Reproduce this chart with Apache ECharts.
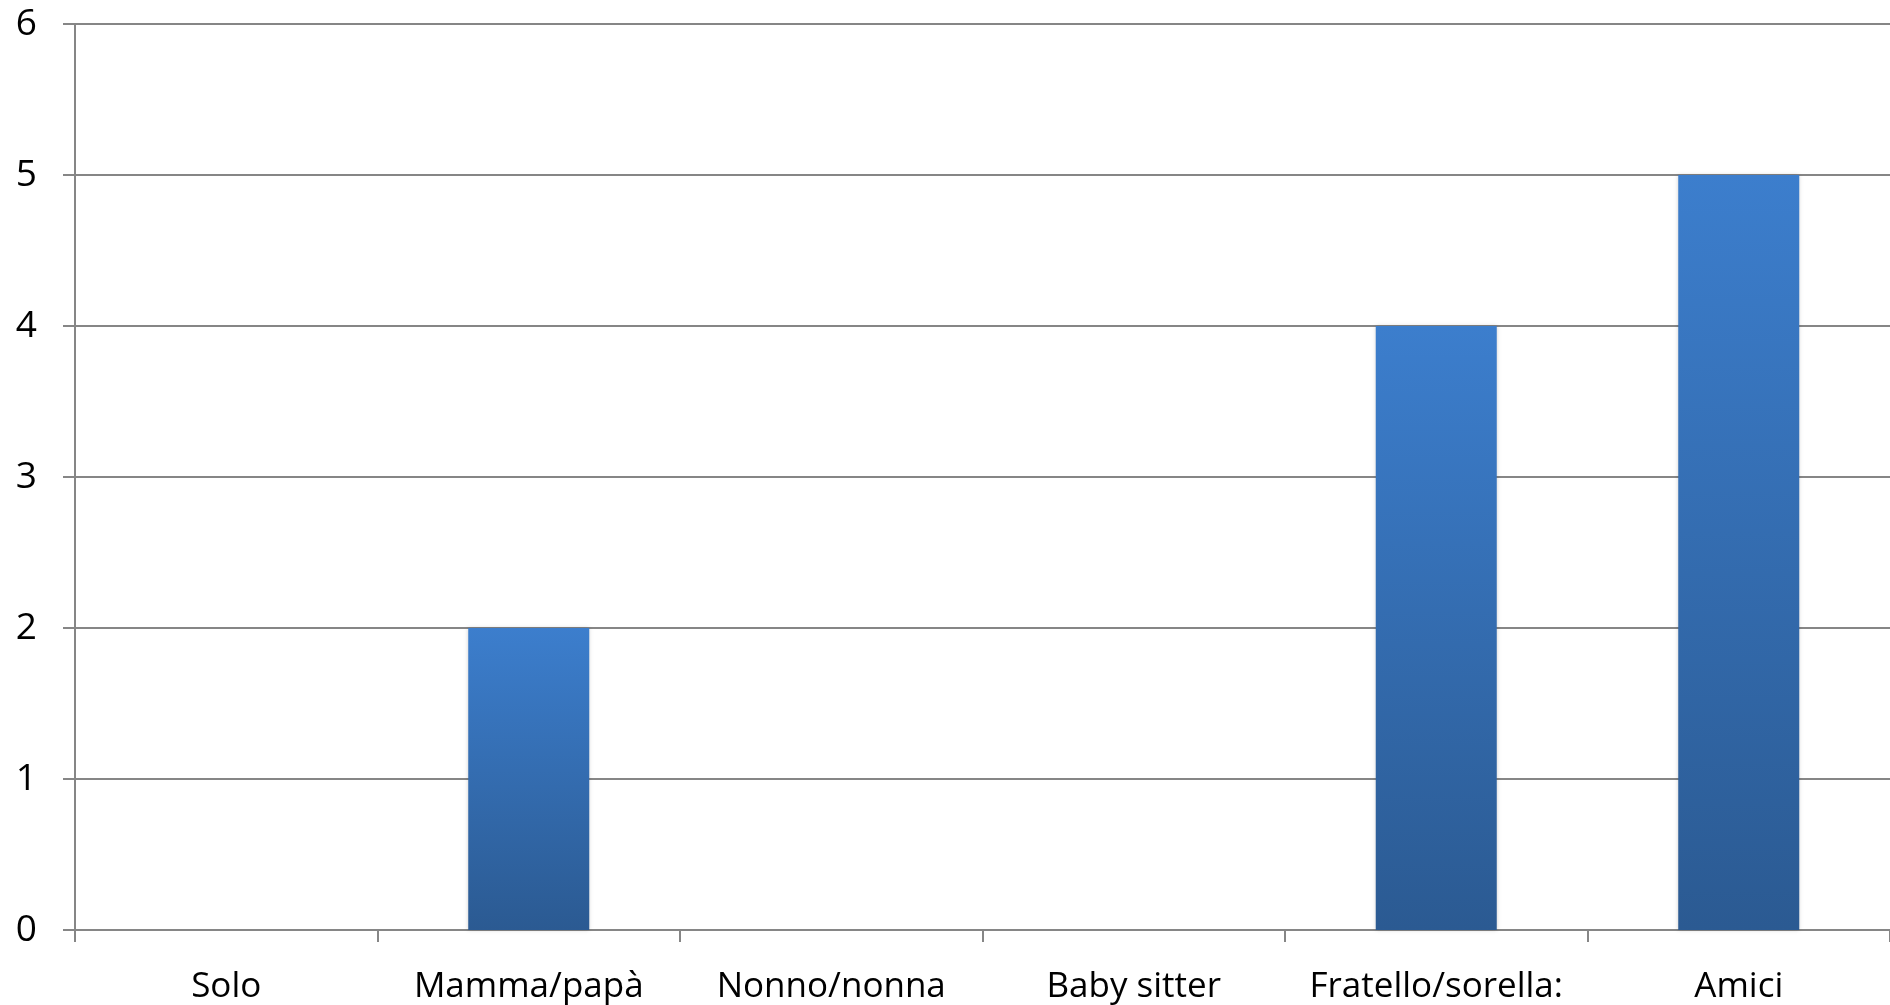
<!DOCTYPE html>
<html>
<head>
<meta charset="utf-8">
<script src="https://cdn.jsdelivr.net/npm/echarts@6/dist/echarts.min.js"></script>
<style>html,body{margin:0;padding:0;background:#fff;}#c{width:1890px;height:1005px;}</style>
</head>
<body>
<div id="c"></div>
<script>
const categories = ["Solo", "Mamma/papà", "Nonno/nonna", "Baby sitter", "Fratello/sorella:", "Amici"];
const values = [0, 2, 0, 0, 4, 5];
const yTicks = [0, 1, 2, 3, 4, 5, 6];

const chart = echarts.init(document.getElementById('c'), null, {renderer: 'canvas'});
const font = 'Open Sans, Noto Sans, sans-serif';
chart.setOption({
  animation: false,
  grid: {left: 75, right: 0, top: 24, bottom: 74, containLabel: false},
  xAxis: {
    type: 'category',
    data: categories,
    boundaryGap: true,
    axisLine: {lineStyle: {color: '#868686', width: 2}},
    axisTick: {show: true, interval: 0, alignWithLabel: false, length: 12, lineStyle: {color: '#868686', width: 2}},
    axisLabel: {color: '#000', interval: 0, fontSize: 35, fontFamily: font, margin: 40}
  },
  yAxis: {
    type: 'value',
    min: yTicks[0],
    max: yTicks[yTicks.length - 1],
    interval: 1,
    axisLine: {show: true, lineStyle: {color: '#868686', width: 2}},
    axisTick: {show: true, length: 12, lineStyle: {color: '#868686', width: 2}},
    splitLine: {show: true, lineStyle: {color: '#868686', width: 2}},
    axisLabel: {color: '#000', fontSize: 37, fontFamily: font, margin: 38}
  },
  series: [{
    type: 'bar',
    data: values,
    barWidth: '40%',
    itemStyle: {
      color: new echarts.graphic.LinearGradient(0, 0, 0, 1, [
        {offset: 0, color: '#3C7ECD'},
        {offset: 1, color: '#2B5A92'}
      ]),
      shadowColor: 'rgba(0,0,0,0.18)',
      shadowBlur: 4
    }
  }]
});
</script>
</body>
</html>
